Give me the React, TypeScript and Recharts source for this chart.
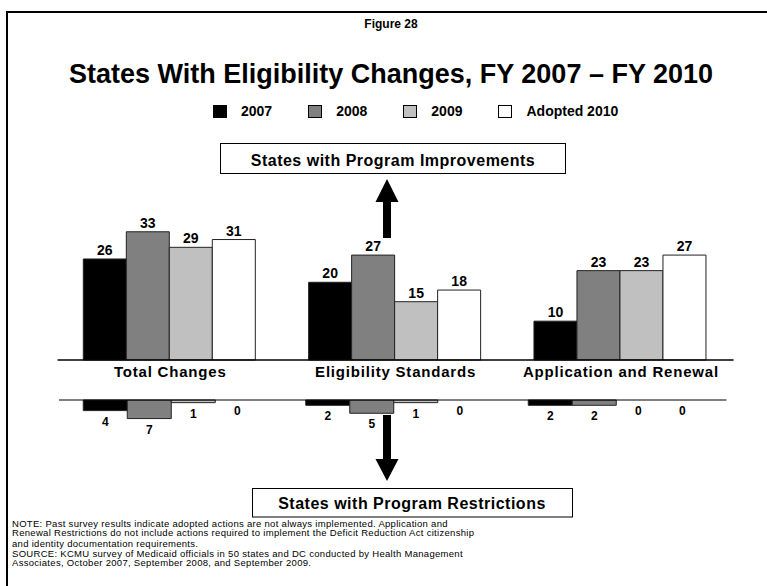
import { BarChart, Bar, XAxis, YAxis, LabelList, ReferenceLine, Cell } from 'recharts';

const F = 'Arial, "Liberation Sans", Helvetica, sans-serif';

const CATEGORIES = ['Total Changes', 'Eligibility Standards', 'Application and Renewal'];

// states with program improvements
const IMPROVE_2007 = [26, 20, 10];
const IMPROVE_2008 = [33, 27, 23];
const IMPROVE_2009 = [29, 15, 23];
const IMPROVE_2010 = [31, 18, 27];

// states with program restrictions
const RESTRICT_2007 = [4, 2, 2];
const RESTRICT_2008 = [7, 5, 2];
const RESTRICT_2009 = [1, 1, 0];
const RESTRICT_2010 = [0, 0, 0];

const SERIES = [
  { key: 'y2007', name: '2007', color: '#000000' },
  { key: 'y2008', name: '2008', color: '#808080' },
  { key: 'y2009', name: '2009', color: '#C0C0C0' },
  { key: 'y2010', name: 'Adopted 2010', color: '#FFFFFF' },
];

const NOTES = [
  'NOTE: Past survey results indicate adopted actions are not always implemented.  Application and',
  'Renewal Restrictions do not include actions required to implement the Deficit Reduction Act citizenship',
  'and identity documentation requirements.',
  'SOURCE: KCMU survey of Medicaid officials in 50 states and DC conducted by Health Management',
  'Associates, October 2007, September 2008, and September 2009.',
];
const NOTE_TOPS = [518.5, 528, 538.5, 548.5, 558];

const improveData = CATEGORIES.map((name, i) => ({
  name,
  y2007: IMPROVE_2007[i],
  y2008: IMPROVE_2008[i],
  y2009: IMPROVE_2009[i],
  y2010: IMPROVE_2010[i],
}));

const restrictData = CATEGORIES.map((name, i) => ({
  name,
  y2007: RESTRICT_2007[i],
  y2008: RESTRICT_2008[i],
  y2009: RESTRICT_2009[i],
  y2010: RESTRICT_2010[i],
}));

const box = (p: any) => {
  const vb = p.viewBox ?? p;
  const x = vb.x ?? p.x;
  const y = vb.y ?? p.y;
  const w = vb.width ?? p.width;
  const h = vb.height ?? p.height ?? 0;
  return { x, y, w, h };
};

const TopLabel = (props: any) => {
  const { x, y, w, h } = box(props);
  const top = Math.min(y, y + h);
  return (
    <text x={x + w / 2} y={top - 4} textAnchor="middle" fontSize={14} fontWeight="bold" fontFamily={F} fill="#000">
      {props.value}
    </text>
  );
};

const BottomLabel = (props: any) => {
  const { x, y, w, h } = box(props);
  const end = Math.max(y, y + h);
  return (
    <text x={x + w / 2} y={end + 15} textAnchor="middle" fontSize={12} fontWeight="bold" fontFamily={F} fill="#000">
      {props.value}
    </text>
  );
};

const Arrow = ({ cx, tipY, baseY, endY }: { cx: number; tipY: number; baseY: number; endY: number }) => (
  <g fill="#000">
    <polygon points={`${cx},${tipY} ${cx - 11.5},${baseY} ${cx + 11.5},${baseY}`} />
    <rect x={cx - 4} y={Math.min(baseY, endY)} width={8} height={Math.abs(endY - baseY)} />
  </g>
);

export default function App() {
  return (
    <div style={{ position: 'absolute', left: 0, top: 0, width: 767, height: 586, background: '#fff', fontFamily: F, overflow: 'hidden' }}>
      {/* frame */}
      <div style={{ position: 'absolute', left: 6, top: 11, width: 761, height: 575, borderLeft: '2px solid #000', borderTop: '2px solid #000' }} />

      <div style={{ position: 'absolute', left: 0, width: 782, top: 17, textAlign: 'center', fontSize: 12, fontWeight: 'bold', lineHeight: '14px' }}>
        Figure 28
      </div>
      <div style={{ position: 'absolute', left: 0, width: 782, top: 61, textAlign: 'center', fontSize: 27, fontWeight: 'bold', lineHeight: '27px' }}>
        States With Eligibility Changes, FY 2007 – FY 2010
      </div>

      {/* legend */}
      <div style={{ position: 'absolute', left: 213, top: 104, display: 'flex', alignItems: 'center', fontSize: 14, fontWeight: 'bold', lineHeight: '14px' }}>
        {SERIES.map((s) => (
          <div key={s.key} style={{ display: 'flex', alignItems: 'center', marginRight: 36 }}>
            <span style={{ display: 'inline-block', width: 12, height: 11, background: s.color, border: '1px solid #000', marginRight: 14 }} />
            <span>{s.name}</span>
          </div>
        ))}
      </div>

      <div style={{ position: 'absolute', left: 0, top: 0 }}>
        <BarChart width={767} height={400} data={improveData} margin={{ top: 224, right: 33.4, bottom: 10, left: 57.6 }} barGap={0} barCategoryGap={25.7}>
          <XAxis
            dataKey="name"
            interval={0}
            height={30}
            axisLine={{ stroke: '#000', strokeWidth: 1.5 }}
            tickLine={false}
            tickSize={6}
            tickMargin={0}
            tick={{ fill: '#000', fontSize: 15, fontWeight: 'bold', fontFamily: F, letterSpacing: 0.8 }}
          />
          <YAxis hide domain={[0, 35]} />
          {SERIES.map((s) => (
            <Bar key={s.key} dataKey={s.key} name={s.name} fill={s.color} stroke="#222" strokeWidth={1} isAnimationActive={false}>
              <LabelList dataKey={s.key} content={TopLabel} />
            </Bar>
          ))}
        </BarChart>
      </div>

      <div style={{ position: 'absolute', left: 0, top: 380 }}>
        <BarChart width={767} height={90} data={restrictData} margin={{ top: 20, right: 40.5, bottom: 43.5, left: 59 }} barGap={0} barCategoryGap={24.25}>
          <XAxis dataKey="name" hide />
          <YAxis hide reversed domain={[0, 10]} />
          {SERIES.map((s) => (
            <Bar
              key={s.key}
              dataKey={s.key}
              name={s.name}
              fill={s.color}
              stroke="#222"
              strokeWidth={1}
              minPointSize={0.5}
              isAnimationActive={false}
            >
              {restrictData.map((d: any, i) => (
                <Cell
                  key={i}
                  fill={s.color}
                  fillOpacity={d[s.key] === 0 ? 0 : 1}
                  stroke={d[s.key] === 0 ? 'none' : '#222'}
                />
              ))}
              <LabelList dataKey={s.key} content={BottomLabel} />
            </Bar>
          ))}
          <ReferenceLine y={0} stroke="#000" strokeWidth={1} />
        </BarChart>
      </div>

      <svg width={767} height={586} style={{ position: 'absolute', left: 0, top: 0, pointerEvents: 'none' }}>
        <rect x={220.5} y={143.5} width={345} height={30} fill="#fff" stroke="#000" strokeWidth={1} />
        <text x={393} y={166} textAnchor="middle" fontSize={16} fontWeight="bold" fontFamily={F} letterSpacing={0.5}>
          States with Program Improvements
        </text>
        <Arrow cx={387} tipY={179} baseY={202} endY={238} />
        <Arrow cx={387} tipY={481} baseY={459} endY={415} />
        <rect x={252.5} y={488.5} width={320} height={28.5} fill="#fff" stroke="#000" strokeWidth={1} />
        <text x={412} y={509} textAnchor="middle" fontSize={16} fontWeight="bold" fontFamily={F} letterSpacing={0.5}>
          States with Program Restrictions
        </text>
      </svg>

      {NOTES.map((line, i) => (
        <div
          key={i}
          style={{ position: 'absolute', left: 12, top: NOTE_TOPS[i], fontSize: 9.5, lineHeight: '9.5px', letterSpacing: 0.3, whiteSpace: 'nowrap' }}
        >
          {line}
        </div>
      ))}
    </div>
  );
}
